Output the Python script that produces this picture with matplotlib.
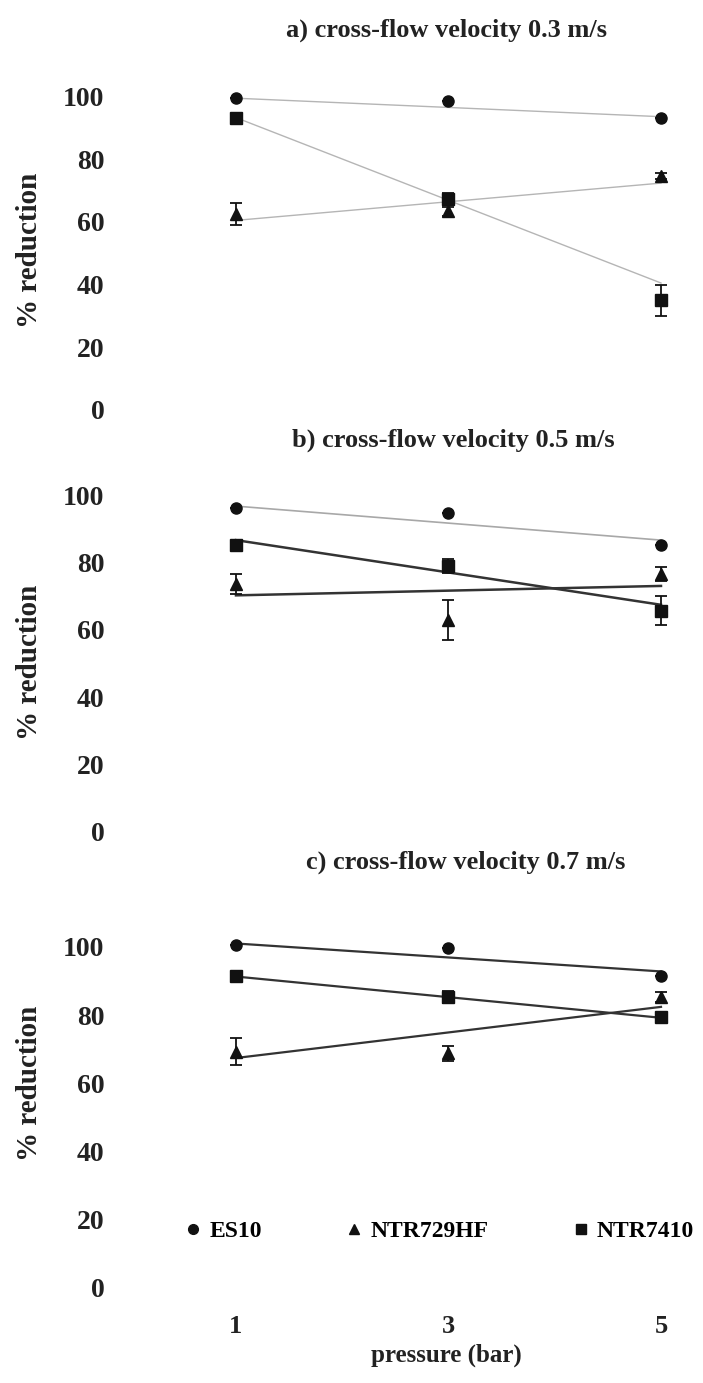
import numpy as np
import matplotlib.pyplot as plt
from matplotlib.lines import Line2D

plt.rcParams['font.family'] = ['Liberation Serif', 'DejaVu Serif']
plt.rcParams['font.weight'] = 'bold'

pressure = [1, 3, 5]
fit_x = [1, 5]
names = ["ES10", "NTR729HF", "NTR7410"]
markers = ["o", "^", "s"]

# a) 0.3 m/s
es10_a = [99.6, 98.6, 93.3]
ntr729_a = [62.6, 63.4, 74.7]
ntr7410_a = [93.3, 67.3, 35.0]
es10_a_err = [0, 0, 0]
ntr729_a_err = [3.5, 1.5, 1.0]
ntr7410_a_err = [1.0, 2.0, 5.0]
es10_a_fit = [99.5, 93.6]
ntr729_a_fit = [60.5, 72.4]
ntr7410_a_fit = [93.3, 40.5]

# b) 0.5 m/s
es10_b = [96.1, 94.7, 85.1]
ntr729_b = [73.6, 62.9, 76.5]
ntr7410_b = [85.2, 78.9, 65.7]
es10_b_err = [0, 0, 0]
ntr729_b_err = [3.0, 5.9, 2.0]
ntr7410_b_err = [1.0, 2.0, 4.3]
es10_b_fit = [96.7, 86.6]
ntr729_b_fit = [70.2, 73.0]
ntr7410_b_fit = [86.6, 67.4]

# c) 0.7 m/s
es10_c = [100.5, 99.8, 91.5]
ntr729_c = [69.3, 68.8, 85.4]
ntr7410_c = [91.4, 85.4, 79.4]
es10_c_err = [0, 0, 0]
ntr729_c_err = [4.0, 2.2, 1.5]
ntr7410_c_err = [1.0, 1.8, 1.0]
es10_c_fit = [101.0, 92.8]
ntr729_c_fit = [67.4, 82.4]
ntr7410_c_fit = [91.3, 79.2]

titles = ["a) cross-flow velocity 0.3 m/s",
          "b) cross-flow velocity 0.5 m/s",
          "c) cross-flow velocity 0.7 m/s"]
yticks = [0, 20, 40, 60, 80, 100]

fig = plt.figure(figsize=(7.03, 13.83), dpi=100)

panels = [
    ([0.2752, 0.6855, 0.7104, 0.2718],
     [es10_a, ntr729_a, ntr7410_a], [es10_a_err, ntr729_a_err, ntr7410_a_err],
     [es10_a_fit, ntr729_a_fit, ntr7410_a_fit],
     [('#b5b5b5', 1.0), ('#b5b5b5', 1.0), ('#b5b5b5', 1.0)]),
    ([0.2752, 0.3791, 0.7104, 0.2922],
     [es10_b, ntr729_b, ntr7410_b], [es10_b_err, ntr729_b_err, ntr7410_b_err],
     [es10_b_fit, ntr729_b_fit, ntr7410_b_fit],
     [('#a8a8a8', 1.2), ('#333333', 1.8), ('#333333', 1.8)]),
    ([0.2752, 0.0492, 0.7104, 0.2957],
     [es10_c, ntr729_c, ntr7410_c], [es10_c_err, ntr729_c_err, ntr7410_c_err],
     [es10_c_fit, ntr729_c_fit, ntr7410_c_fit],
     [('#333333', 1.6), ('#333333', 1.6), ('#333333', 1.6)]),
]

axes = []
for rect, ys, errs, fits, lstyles in panels:
    ax = fig.add_axes(rect)
    for y, e, f, m, (lc, lw) in zip(ys, errs, fits, markers, lstyles):
        ax.plot(fit_x, f, color=lc, lw=lw, zorder=2)
        ax.errorbar(pressure, y, yerr=e, fmt=m, color='#111111', ms=8,
                    capsize=4.5, elinewidth=1.3, capthick=1.3, zorder=3,
                    clip_on=False)
    ax.set_xlim(0.6, 5.3)
    ax.set_ylim(-8, 112)
    ax.set_yticks(yticks)
    ax.set_xticks(pressure)
    ax.tick_params(axis='y', length=0, pad=64, labelsize=20, labelcolor='#222222')
    ax.tick_params(axis='x', length=0, pad=0, labelsize=19, labelcolor='#222222')
    for s in ax.spines.values():
        s.set_visible(False)
    axes.append(ax)

axes[0].set_xticklabels([])
axes[1].set_xticklabels([])

title_pos = [(446, 30), (453, 440), (466, 862)]
for t, (px, py) in zip(titles, title_pos):
    fig.text(px / 703, 1 - py / 1383, t, ha='center', va='center',
             fontsize=19, fontweight='bold', color='#222222')

for py in [250, 662, 1083]:
    fig.text(30 / 703, 1 - py / 1383, "% reduction", rotation=90,
             ha='center', va='center', fontsize=21, fontweight='bold', color='#222222')

fig.text(446 / 703, 1 - 1355 / 1383, "pressure (bar)", ha='center', va='center',
         fontsize=18, fontweight='bold', color='#222222')

handles = [Line2D([], [], marker=m, ls='none', color='#111111', ms=7) for m in markers]
axes[2].legend(handles, names, ncol=3, loc='center',
               bbox_to_anchor=(440 / 703, 1 - 1231 / 1383),
               bbox_transform=fig.transFigure, frameon=False,
               handlelength=0.6, handletextpad=0.4, columnspacing=3.6,
               prop={'size': 17, 'weight': 'bold'})

fig.savefig("out.png", dpi=100)
